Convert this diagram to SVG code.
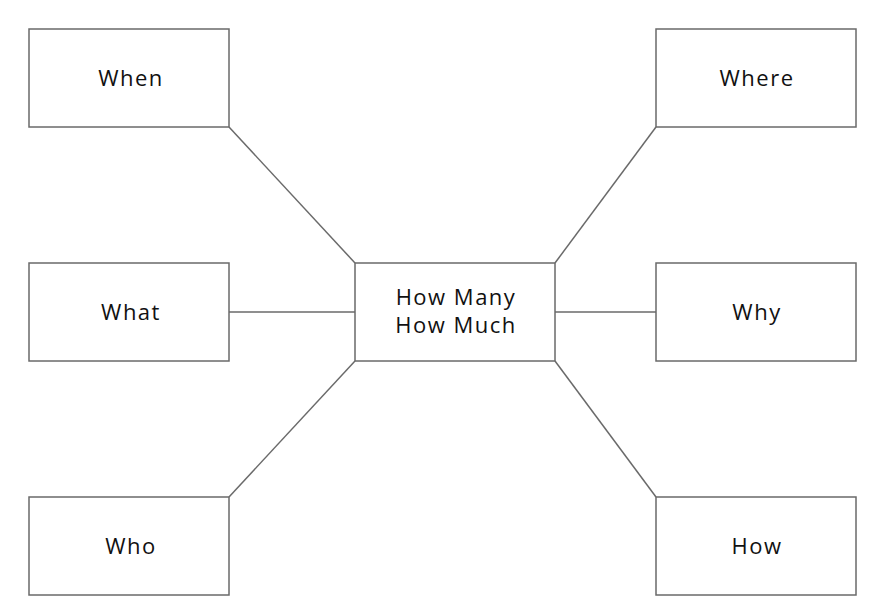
<svg xmlns="http://www.w3.org/2000/svg" width="874" height="609" viewBox="0 0 874 609">
<style>
.box{fill:#fff;stroke:#6a6a6a;stroke-width:1.5}
.lbl{font-family:"Open Sans","Liberation Sans",sans-serif;font-size:22px;fill:#111;text-anchor:middle;letter-spacing:1.5px}
.con{stroke:#6a6a6a;stroke-width:1.5;fill:none}
</style>
<rect width="874" height="609" fill="#fff"/>
<g id="connectors">
<line class="con" x1="229" y1="127" x2="355" y2="263"/>
<line class="con" x1="229" y1="312" x2="355" y2="312"/>
<line class="con" x1="229" y1="497" x2="355" y2="361"/>
<line class="con" x1="656" y1="127" x2="555" y2="263"/>
<line class="con" x1="656" y1="312" x2="555" y2="312"/>
<line class="con" x1="656" y1="497" x2="555" y2="361"/>
</g>
<g id="when"><rect class="box" x="29" y="29" width="200" height="98"/><text class="lbl" x="131" y="86">When</text></g>
<g id="where"><rect class="box" x="656" y="29" width="200" height="98"/><text class="lbl" x="757" y="86">Where</text></g>
<g id="what"><rect class="box" x="29" y="263" width="200" height="98"/><text class="lbl" x="131" y="320">What</text></g>
<g id="why"><rect class="box" x="656" y="263" width="200" height="98"/><text class="lbl" x="757" y="320">Why</text></g>
<g id="who"><rect class="box" x="29" y="497" width="200" height="98"/><text class="lbl" x="131" y="554">Who</text></g>
<g id="how"><rect class="box" x="656" y="497" width="200" height="98"/><text class="lbl" x="757" y="554">How</text></g>
<g id="center"><rect class="box" x="355" y="263" width="200" height="98"/><text class="lbl" x="456" y="305">How Many</text><text class="lbl" x="456" y="333">How Much</text></g>
</svg>
